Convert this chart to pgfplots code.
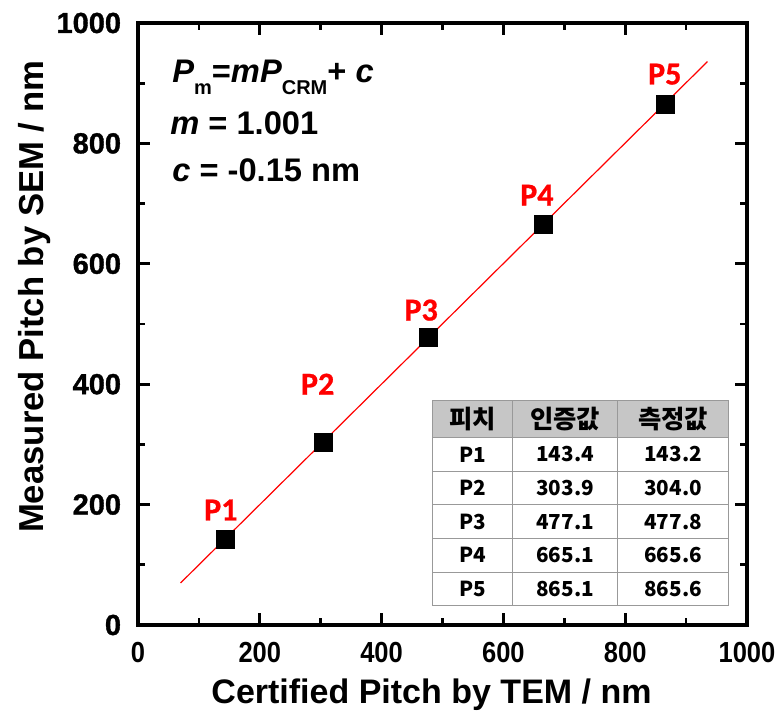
\documentclass[border=0pt]{standalone}
\usepackage{fontspec}
\setmainfont{Liberation Sans}
\newfontfamily\xtickfont[FakeStretch=0.88]{Liberation Sans}
\newfontfamily\ytickfont[FakeBold=1.2]{Liberation Sans}
\newfontfamily\cjk{Noto Sans CJK KR}
\newfontfamily\calib[FakeBold=0.8]{Carlito}
\usepackage{pgfplots}
\pgfplotsset{compat=1.18}
\usetikzlibrary{matrix}
\begin{document}
\begin{tikzpicture}
\useasboundingbox (-103.5pt,-68.25pt) rectangle (478.5pt,468.75pt);
\begin{axis}[
  at={(0,0)}, anchor=south west,
  scale only axis, width=456.75pt, height=451.5pt,
  xmin=0, xmax=1000, ymin=0, ymax=1000,
  xtick={0,200,...,1000}, ytick={0,200,...,1000},
  minor tick num=1,
  tick align=inside,
  xtick pos=both, ytick pos=both,
  xticklabel pos=lower, yticklabel pos=left,
  major tick length=9pt, minor tick length=5pt,
  every tick/.style={black, line width=2pt},
  axis line style={line width=2.4pt},
  /pgf/number format/assume math mode=true,
  /pgf/number format/1000 sep={},
  ticklabel style={inner sep=0pt},
  xticklabel style={yshift=-12.5pt, font=\xtickfont\bfseries\fontsize{21.75}{22}\selectfont},
  yticklabel style={xshift=-12.5pt, font=\ytickfont\bfseries\fontsize{21.75}{22}\selectfont},
  xlabel={Certified Pitch by TEM / nm},
  xlabel style={at={(axis description cs:0.482,-0.1296)}, anchor=base, inner sep=0pt, font=\bfseries\fontsize{25.5}{26}\selectfont},
  ylabel={Measured Pitch by SEM / nm},
  ylabel style={at={(axis description cs:-0.155,0.545)}, anchor=base, rotate=0, inner sep=0pt, font=\bfseries\fontsize{26}{26}\selectfont},
  clip=false,
]
\addplot[only marks, mark=square*, mark size=6.75pt, black] coordinates {
  (143.4,143.2) (303.9,304.0) (477.1,477.8) (665.1,665.6) (865.1,865.6)};
\addplot[red, line width=0.9pt] coordinates {(70,69.92) (935,935.785)};
\node[red, font=\calib\bfseries\fontsize{24}{24}\selectfont] at (axis cs:136,191) {P1};
\node[red, font=\calib\bfseries\fontsize{24}{24}\selectfont] at (axis cs:295,400) {P2};
\node[red, font=\calib\bfseries\fontsize{24}{24}\selectfont] at (axis cs:465,523) {P3};
\node[red, font=\calib\bfseries\fontsize{24}{24}\selectfont] at (axis cs:655,714) {P4};
\node[red, font=\calib\bfseries\fontsize{24}{24}\selectfont] at (axis cs:865,915) {P5};
\end{axis}
\node[anchor=base west, inner sep=0pt, font=\bfseries\fontsize{24.5}{24}\selectfont] at (25.5pt,406.5pt)
  {\textit{P}\raisebox{-9pt}{\fontsize{15}{15}\selectfont m}=\textit{mP}\raisebox{-9pt}{\fontsize{15}{15}\selectfont CRM}+ \textit{c}};
\node[anchor=base west, inner sep=0pt, font=\bfseries\fontsize{24.5}{24}\selectfont] at (24pt,367.5pt)
  {\textit{m} = 1.001};
\node[anchor=base west, inner sep=0pt, font=\bfseries\fontsize{24.5}{24}\selectfont] at (25.5pt,332.25pt)
  {\textit{c} = -0.15 nm};
\matrix[anchor=north west, inner sep=0pt, matrix of nodes,
  column sep=-0.6pt, row sep=-0.6pt,
  nodes={draw=gray!80, line width=0.6pt, inner sep=0pt, anchor=center,
         minimum height=25.2pt, font=\cjk\bfseries\fontsize{15.5}{16}\selectfont},
  row 1/.style={nodes={fill=gray!45, minimum height=27.75pt, font=\cjk\bfseries\fontsize{19}{19}\selectfont}},
  column 1/.style={nodes={minimum width=60pt}},
  column 2/.style={nodes={minimum width=78.75pt}},
  column 3/.style={nodes={minimum width=83.25pt}},
] at (220.5pt,168.75pt) {
  피치 & 인증값 & 측정값 \\
  P1 & 143.4 & 143.2 \\
  P2 & 303.9 & 304.0 \\
  P3 & 477.1 & 477.8 \\
  P4 & 665.1 & 665.6 \\
  P5 & 865.1 & 865.6 \\
};
\end{tikzpicture}
\end{document}
